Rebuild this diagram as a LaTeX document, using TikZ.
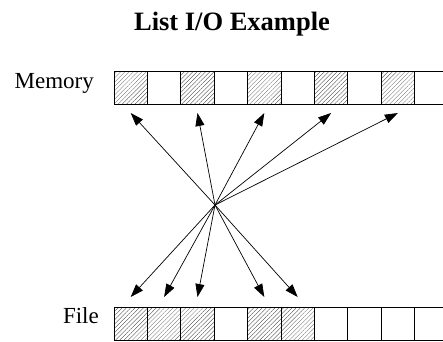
\documentclass[tikz,border=0pt]{standalone}
\usepackage{fontspec}
\setmainfont{Liberation Serif}
\usetikzlibrary{patterns.meta,arrows.meta}
\tikzset{
  cell/.style={draw, line width=0.8pt, minimum width=33.4pt, minimum height=33pt, inner sep=0pt, outer sep=0pt},
  hatched/.style={cell, pattern={Lines[angle=45,distance=3pt,line width=0.3pt]}, pattern color=black!75},
  ioarrow/.style={line width=0.7pt, -{Triangle[length=13pt,width=9pt]}},
  lbl/.style={font=\fontsize{23}{26}\selectfont, inner sep=0pt},
}
\begin{document}
\begin{tikzpicture}[x=1pt,y=-1pt]
\useasboundingbox (0,0) rectangle (443,341);
\clip (0,0) rectangle (443,341);
\node[font=\bfseries\fontsize{26.5}{30}\selectfont, inner sep=0pt, anchor=base] (title) at (232,30) {List I/O Example};
\node[lbl, anchor=base east] (memlbl) at (94,88) {Memory};
\node[lbl, anchor=base east] (filelbl) at (99,323) {File};
% memory row
\foreach \i in {0,...,9} {
  \pgfmathtruncatemacro{\odd}{mod(\i,2)}
  \ifnum\odd=0
    \node[hatched] (m\i) at (130.7+33.4*\i,87.5) {};
  \else
    \node[cell] (m\i) at (130.7+33.4*\i,87.5) {};
  \fi
}
% file row
\foreach \i/\h in {0/1,1/1,2/1,3/0,4/1,5/1,6/0,7/0,8/0,9/0} {
  \ifnum\h=1
    \node[hatched] (f\i) at (130.7+33.4*\i,323.5) {};
  \else
    \node[cell] (f\i) at (130.7+33.4*\i,323.5) {};
  \fi
}
\coordinate (c) at (215,205);
\foreach \k in {0,2,4,6,8} {
  \draw[ioarrow] (c) -- ([yshift=-9pt]m\k.south);
}
\foreach \k in {0,1,2,4,5} {
  \draw[ioarrow] (c) -- ([yshift=10pt]f\k.north);
}
\end{tikzpicture}
\end{document}
